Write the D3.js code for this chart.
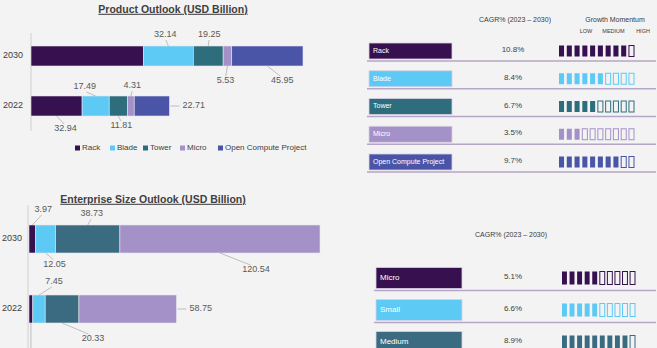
<!DOCTYPE html>
<html>
<head>
<meta charset="utf-8">
<script src="https://cdn.jsdelivr.net/npm/d3@7"></script>
<style>
  body { margin: 0; background: #f3f3f3; }
  svg { display: block; font-family: "Liberation Sans", Arial, sans-serif; }
</style>
</head>
<body>
<svg id="chart" width="657" height="348"></svg>
<script>
// ---- data ----
const years = ["2030", "2022"];

const productSeries = ["Rack", "Blade", "Tower", "Micro", "Open Compute Project"];
const product2030 = [72.5, 32.14, 19.25, 5.53, 45.95];
const product2022 = [32.94, 17.49, 11.81, 4.31, 22.71];
const productCagr = ["10.8%", "8.4%", "6.7%", "3.5%", "9.7%"];
const productMomentum = [9, 6, 5, 3, 8];

const entSeries = ["Micro", "Small", "Medium", "Large"];
const ent2030 = [3.97, 12.05, 38.73, 120.54];
const ent2022 = [2.3, 7.45, 20.33, 58.75];
const entTableRows = ["Micro", "Small", "Medium"];
const entCagr = ["5.1%", "6.6%", "8.9%"];
const entMomentum = [5, 5, 9];

const momentumLevels = ["LOW", "MEDIUM", "HIGH"];

// ---- styles ----
const productColors = ["#36104f", "#5ccaf5", "#2e6e7c", "#a491c7", "#4b55a8"];
const entColors = ["#36104f", "#5ccaf5", "#3a6b80", "#a491c7"];
const labelColor = "#595959";
const leaderColor = "#a8a8a8";

// label placement per segment: [dx, dy] from segment middle / edge, "right" or null
const productPlace = {
  "2030": [null, [-3, -11], [1, -11], [-2, 15], [15, 15]],
  "2022": [[9, 13], [-11, -9], [3, 10], [1.5, -10], "right"]
};
const entPlace = {
  "2030": [[11, -15], [9, 11.5], [4, -11], [36, 17]],
  "2022": [[0, 40, "lineOnly"], [15, -13], [31, 16], "right"]
};

const svg = d3.select("#chart");
const g = svg.append("g");

function stackedChart(opts) {
  const { series, rows, colors, place, x, y, barH, axisX, axisY0, axisY1, yearX } = opts;

  g.append("line")
    .attr("x1", axisX).attr("x2", axisX)
    .attr("y1", axisY0).attr("y2", axisY1)
    .attr("stroke", "#d0d0d0").attr("stroke-width", 1);

  rows.forEach(r => {
    let acc = 0;
    const segs = r.values.map((v, i) => {
      const s = { name: series[i], v: v, x0: acc, x1: acc + v, i: i };
      acc += v;
      return s;
    });
    const cy = y(r.year);
    const top = cy - barH / 2, bottom = cy + barH / 2;

    g.selectAll(null).data(segs).enter().append("rect")
      .attr("x", d => x(d.x0))
      .attr("y", top)
      .attr("width", d => x(d.x1) - x(d.x0))
      .attr("height", barH)
      .attr("fill", d => colors[d.i])
      .attr("stroke", "#e8e4ee")
      .attr("stroke-width", 0.6);

    // year label
    g.append("text")
      .attr("x", yearX).attr("y", cy)
      .attr("text-anchor", "end")
      .attr("dominant-baseline", "middle")
      .attr("font-size", 9)
      .attr("fill", "#404040")
      .text(r.year);

    segs.forEach(d => {
      const p = place[r.year][d.i];
      if (!p) return;
      const mid = (x(d.x0) + x(d.x1)) / 2;
      if (p === "right") {
        const ex = x(d.x1);
        g.append("line")
          .attr("x1", ex + 1).attr("x2", ex + 10)
          .attr("y1", cy).attr("y2", cy)
          .attr("stroke", leaderColor).attr("stroke-width", 0.7);
        g.append("text")
          .attr("x", ex + 13).attr("y", cy)
          .attr("dominant-baseline", "middle")
          .attr("font-size", 9)
          .attr("fill", labelColor)
          .text(d.v.toFixed(2));
        return;
      }
      const [dx, dy, mode] = p;
      const edge = dy < 0 ? top : bottom;
      const ly = edge + dy;
      const endY = dy < 0 ? ly + 5 : ly - 5;
      g.append("line")
        .attr("x1", mid).attr("y1", edge)
        .attr("x2", mid + dx * 0.85).attr("y2", endY)
        .attr("stroke", leaderColor).attr("stroke-width", 0.7);
      if (mode === "lineOnly") return;
      g.append("text")
        .attr("x", mid + dx).attr("y", ly)
        .attr("text-anchor", "middle")
        .attr("dominant-baseline", "middle")
        .attr("font-size", 9)
        .attr("fill", labelColor)
        .text(d.v.toFixed(2));
    });
  });
}

function title(txt, cx, cy) {
  g.append("text")
    .attr("x", cx).attr("y", cy)
    .attr("text-anchor", "middle")
    .attr("dominant-baseline", "middle")
    .attr("font-size", 10.5)
    .attr("font-weight", "bold")
    .attr("fill", "#404040")
    .attr("text-decoration", "underline")
    .text(txt);
}

// ---- product outlook ----
title("Product Outlook (USD Billion)", 173, 10);
stackedChart({
  series: productSeries,
  rows: [{ year: "2030", values: product2030 }, { year: "2022", values: product2022 }],
  colors: productColors,
  place: productPlace,
  x: d3.scaleLinear().domain([0, d3.sum(product2030)]).range([31, 303]),
  y: d3.scalePoint().domain(years).range([56, 106]),
  barH: 20,
  axisX: 31, axisY0: 33, axisY1: 131, yearX: 23
});

// legend
const legendX = d3.scaleOrdinal().domain(productSeries).range([75, 110, 143, 180, 218]);
productSeries.forEach((s, i) => {
  const lx = legendX(s);
  g.append("rect")
    .attr("x", lx).attr("y", 145.5)
    .attr("width", 5).attr("height", 5)
    .attr("fill", productColors[i]);
  g.append("text")
    .attr("x", lx + 7).attr("y", 148)
    .attr("dominant-baseline", "middle")
    .attr("font-size", 8)
    .attr("fill", "#404040")
    .text(s);
});

// ---- enterprise size outlook ----
title("Enterprise Size Outlook (USD Billion)", 153, 200);
stackedChart({
  series: entSeries,
  rows: [{ year: "2030", values: ent2030 }, { year: "2022", values: ent2022 }],
  colors: entColors,
  place: entPlace,
  x: d3.scaleLinear().domain([0, d3.sum(ent2030)]).range([29, 320]),
  y: d3.scalePoint().domain(years).range([239, 309]),
  barH: 28,
  axisX: 28, axisY0: 205, axisY1: 348, yearX: 22
});

// ---- right tables ----
function table(opts) {
  const { rows, colors, cagr, momentum, y, boxH, boxX, boxW, blocksX, blockH, fontSize } = opts;
  rows.forEach((r, i) => {
    const cy = y(r);
    g.append("rect")
      .attr("x", boxX).attr("y", cy - boxH / 2)
      .attr("width", boxW).attr("height", boxH)
      .attr("fill", colors[i])
      .attr("stroke", "#d9d0e3").attr("stroke-width", 0.8);
    g.append("text")
      .attr("x", boxX + 4).attr("y", cy)
      .attr("dominant-baseline", "middle")
      .attr("font-size", fontSize)
      .attr("fill", "#ffffff")
      .text(r);
    g.append("line")
      .attr("x1", boxX - 2).attr("x2", 656)
      .attr("y1", cy + boxH / 2 + 2).attr("y2", cy + boxH / 2 + 2)
      .attr("stroke", "#b4a6c6").attr("stroke-width", 1.3);
    g.append("text")
      .attr("x", 513).attr("y", cy - 1)
      .attr("text-anchor", "middle")
      .attr("dominant-baseline", "middle")
      .attr("font-size", 8)
      .attr("fill", "#404040")
      .text(cagr[i]);
    const cells = d3.range(10);
    g.selectAll(null).data(cells).enter().append("rect")
      .attr("x", c => blocksX(c))
      .attr("y", cy - blockH / 2)
      .attr("width", blocksX.bandwidth())
      .attr("height", blockH)
      .attr("fill", c => c < momentum[i] ? colors[i] : "#f3f3f3")
      .attr("stroke", colors[i])
      .attr("stroke-width", c => c < momentum[i] ? 0 : 1);
  });
}

function header(txt, cx, cy, size) {
  g.append("text")
    .attr("x", cx).attr("y", cy)
    .attr("text-anchor", "middle")
    .attr("dominant-baseline", "middle")
    .attr("font-size", size)
    .attr("fill", "#3a3a3a")
    .text(txt);
}

header("CAGR% (2023 \u2013 2030)", 515, 20, 7);
header("Growth Momentum", 615, 20, 7);
const levelX = d3.scalePoint().domain(momentumLevels).range([586, 643]);
momentumLevels.forEach(l => header(l, levelX(l) + (l === "MEDIUM" ? -1 : 0), 32, 5.5));

table({
  rows: productSeries,
  colors: productColors,
  cagr: productCagr,
  momentum: productMomentum,
  y: d3.scalePoint().domain(productSeries).range([51, 162]),
  boxH: 16, boxX: 369, boxW: 83,
  blocksX: d3.scaleBand().domain(d3.range(10)).range([559, 634]).paddingInner(0.35),
  blockH: 11,
  fontSize: 7
});

header("CAGR% (2023 \u2013 2030)", 511, 235, 7);
table({
  rows: entTableRows,
  colors: entColors,
  cagr: entCagr,
  momentum: entMomentum,
  y: d3.scalePoint().domain(entTableRows).range([278, 342]),
  boxH: 21, boxX: 376, boxW: 86,
  blocksX: d3.scaleBand().domain(d3.range(10)).range([562, 635]).paddingInner(0.35),
  blockH: 13,
  fontSize: 8
});
</script>
</body>
</html>
